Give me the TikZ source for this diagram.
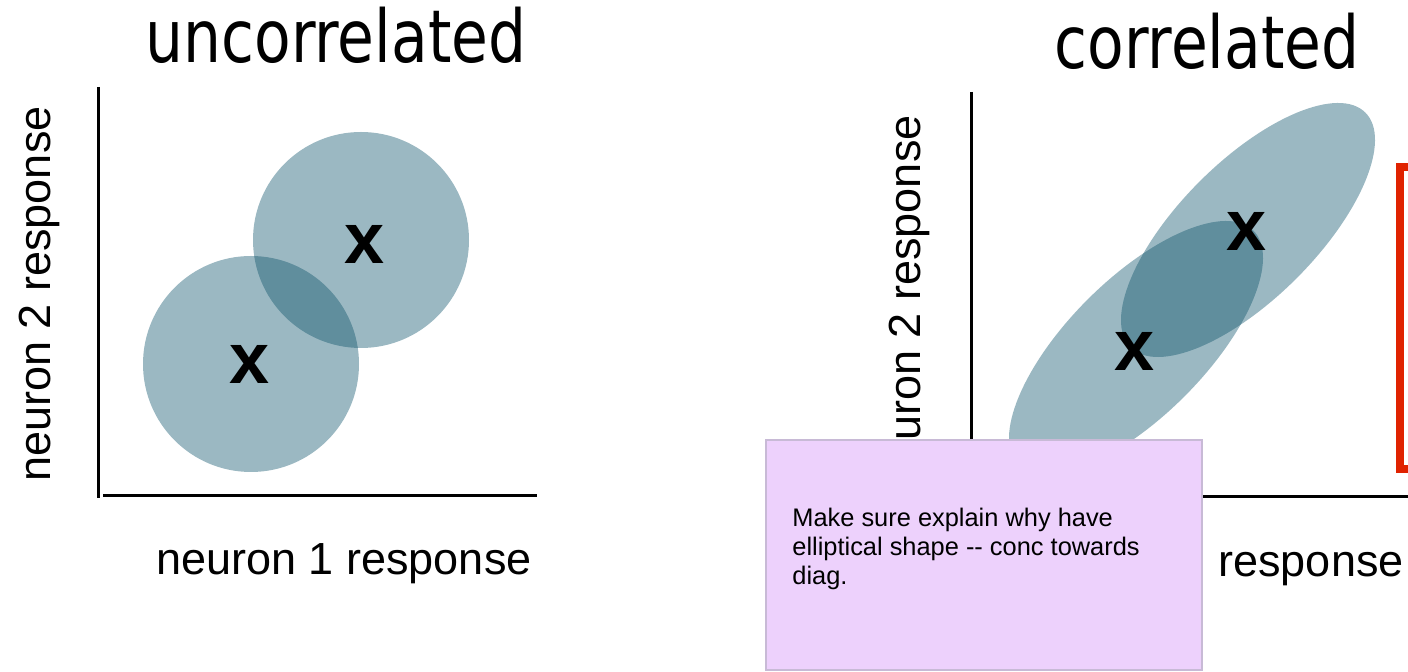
\documentclass[tikz,border=0pt]{standalone}
\usepackage{fontspec}
\setmainfont{Liberation Sans}
\newfontfamily\titlefont[FakeStretch=0.82]{DejaVu Sans}
\usetikzlibrary{shadows}
\definecolor{blobc}{RGB}{6,78,102}
\definecolor{notefill}{RGB}{237,209,252}
\definecolor{noteedge}{RGB}{200,186,214}
\definecolor{redbox}{RGB}{224,34,0}
\begin{document}
\begin{tikzpicture}[x=0.5pt,y=-0.5pt,
  blob/.style={fill=blobc, fill opacity=0.4, draw=none},
  plottitle/.style={anchor=base, inner sep=0pt, font=\titlefont\fontsize{36.5}{42}\selectfont},
  axlabel/.style={anchor=base, inner sep=0pt, font=\fontsize{22.5}{27}\selectfont},
  xmarker/.style={inner sep=0pt, font=\bfseries\fontsize{36}{40}\selectfont},
  axisline/.style={line width=1.5pt, black},
  notebox/.style={draw=noteedge, fill=notefill, line width=0.6pt, inner sep=0pt,
    minimum width=218pt, minimum height=115pt,
    drop shadow={shadow xshift=0.6pt, shadow yshift=-0.6pt, opacity=0.25}},
  notetext/.style={anchor=north west, inner sep=0pt, align=left, font=\fontsize{12.7}{14.5}\selectfont}]
\useasboundingbox (0,0) rectangle (1408,672);
\clip (0,0) rectangle (1408,672);

% ---------- left panel: uncorrelated ----------
\node[plottitle] (t1) at (336,63) {uncorrelated};
\coordinate (ly0) at (98,87);
\coordinate (ly1) at (98,498);
\coordinate (lx0) at (103,496);
\coordinate (lx1) at (537,496);
\draw[axisline] (ly0) -- (ly1);
\draw[axisline] (lx0) -- (lx1);
\node[axlabel] (lxl) at (344,575) {neuron 1 response};
\node[axlabel, rotate=90] (lyl) at (50,294) {neuron 2 response};
\fill[blob] (251,364) circle [radius=108];
\fill[blob] (361,240) circle [radius=108];
\node[xmarker] (lxa) at (250,364) {x};
\node[xmarker] (lxb) at (365,244) {x};

% ---------- right panel: correlated ----------
\node[plottitle] (t2) at (1207,69) {correlated};
\coordinate (ry0) at (971,92);
\coordinate (ry1) at (971,498);
\coordinate (rx0) at (975,497);
\coordinate (rx1) at (1420,497);
\draw[axisline] (ry0) -- (ry1);
\draw[axisline] (rx0) -- (rx1);
\node[axlabel] (rxl) at (1216,577) {neuron 1 response};
\node[axlabel, rotate=90] (ryl) at (920,303) {neuron 2 response};
\fill[blob, rotate around={45:(1136,348)}] (1136,348) ellipse [x radius=166, y radius=68.5];
\fill[blob, rotate around={45:(1248,230)}] (1248,230) ellipse [x radius=166, y radius=68.5];
\node[xmarker] (rxa) at (1135,351) {x};
\node[xmarker] (rxb) at (1247,231) {x};

% red frame, partly outside the slide
\draw[redbox, line width=4pt] (1400,167) rectangle (1450,469);

% ---------- sticky note ----------
\node[notebox] (note) at (984,555) {};
\node[notetext] (notet) at (792,508) {Make sure explain why have\\elliptical shape -{}- conc towards\\diag.};
\end{tikzpicture}
\end{document}
